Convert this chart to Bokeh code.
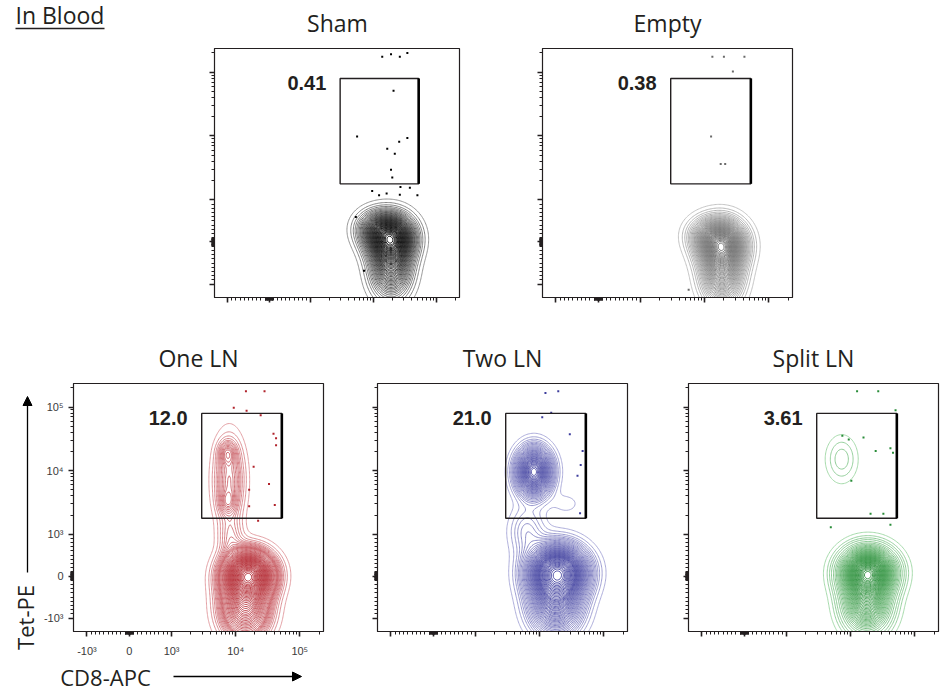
import numpy as np
from bokeh.plotting import figure
from bokeh.models import FixedTicker, Label, Arrow, NormalHead, Range1d
from bokeh.layouts import row, column
from bokeh.embed import file_html
from bokeh.resources import INLINE

# ---------------- data ----------------
titles = ["Sham", "Empty", "One LN", "Two LN", "Split LN"]
gate_pct = ["0.41", "0.38", "12.0", "21.0", "3.61"]
dark_col = ["#000000", "#6a6a6a", "#b0222b", "#3c3c9c", "#288c38"]
light_col = ["#8a8a8a", "#bdbdbd", "#e0959a", "#a4a4d6", "#9cd6a2"]

# gate in display (biexponential) units
gate_x = [3.47, 4.72]
gate_y = [3.25, 4.90]

# axis ticks (display units) and labels
major_ticks = [1.68, 2.34, 3.0, 4.0, 5.0]
major_labels = ["-10³", "0", "10³", "10⁴", "10⁵"]

# populations: Gaussian components (centre, spread, weight) in display units
sham_cx = [4.28, 4.28, 4.02]
sham_cy = [2.40, 1.95, 2.55]
sham_sx = [0.22, 0.20, 0.20]
sham_sy = [0.22, 0.30, 0.18]
sham_w = [0.55, 0.35, 0.10]

empty_cx = [4.27, 4.27, 4.02]
empty_cy = [2.30, 1.85, 2.45]
empty_sx = [0.22, 0.20, 0.20]
empty_sy = [0.23, 0.30, 0.18]
empty_w = [0.55, 0.37, 0.08]

one_cx = [4.20, 4.15, 3.90, 3.87, 3.87, 3.92]
one_cy = [2.36, 1.85, 3.85, 4.28, 3.50, 2.95]
one_sx = [0.23, 0.23, 0.15, 0.09, 0.09, 0.13]
one_sy = [0.22, 0.30, 0.42, 0.12, 0.12, 0.22]
one_w = [0.50, 0.33, 0.10, 0.010, 0.007, 0.02]

two_cx = [4.28, 4.25, 3.91, 4.42, 3.80]
two_cy = [2.40, 1.90, 3.98, 3.48, 3.05]
two_sx = [0.27, 0.25, 0.17, 0.16, 0.18]
two_sy = [0.25, 0.30, 0.23, 0.12, 0.25]
two_w = [0.48, 0.25, 0.19, 0.004, 0.03]

split_cx = [4.27, 4.25, 3.86]
split_cy = [2.40, 1.92, 4.18]
split_sx = [0.24, 0.22, 0.16]
split_sy = [0.22, 0.28, 0.24]
split_w = [0.60, 0.36, 0.026]

# outlier events (display units)
sham_ox = [4.14, 4.28, 4.42, 4.54, 4.32, 3.74, 4.41, 4.54, 4.22, 4.34, 4.28, 4.30, 3.98, 4.09, 4.21, 4.43, 4.58, 4.42, 4.70, 3.72, 3.85]
sham_oy = [5.24, 5.28, 5.24, 5.30, 4.71, 3.99, 3.91, 3.97, 3.80, 3.72, 3.47, 3.35, 3.14, 3.07, 3.10, 3.20, 3.19, 3.08, 3.07, 2.73, 1.89]
empty_ox = [4.12, 4.30, 4.62, 4.44, 4.10, 4.25, 4.32, 3.75]
empty_oy = [5.24, 5.24, 5.24, 5.01, 3.99, 3.56, 3.56, 1.59]
one_ox = [4.16, 4.45, 3.97, 4.17, 4.39, 4.59, 4.63, 4.63, 4.52, 4.61, 4.35, 4.28, 4.21, 4.21]
one_oy = [5.25, 5.25, 4.99, 4.94, 4.87, 4.58, 4.51, 4.40, 3.79, 3.46, 3.21, 4.06, 3.70, 3.44]
two_ox = [4.09, 4.29, 4.18, 4.04, 4.47, 4.67, 4.64, 4.59, 4.63]
two_oy = [5.22, 5.25, 4.91, 4.84, 4.57, 4.31, 4.09, 3.92, 3.33]
split_ox = [4.10, 4.43, 4.70, 3.87, 3.97, 4.20, 4.39, 4.62, 4.66, 4.01, 4.31, 4.51, 3.69, 4.62]
split_oy = [5.25, 5.25, 4.95, 4.55, 4.49, 4.52, 4.31, 4.35, 4.28, 3.84, 3.32, 3.32, 3.11, 3.15]

# ---------------- helpers ----------------
TXT = "#231f20"
FONT = "Open Sans"
NUMFONT = "Liberation Sans"
RANGE = (1.47, 5.37)

gx = np.linspace(0.9, 5.9, 251)
gy = np.linspace(0.4, 5.9, 276)
GX, GY = np.meshgrid(gx, gy)


def density(cx, cy, sx, sy, w):
    z = np.zeros_like(GX)
    for a, b, c, d, e in zip(cx, cy, sx, sy, w):
        z += e / (2 * np.pi * c * d) * np.exp(-0.5 * (((GX - a) / c) ** 2 + ((GY - b) / d) ** 2))
    return z


def prob_levels(z, step=0.02, n=49):
    zs = np.sort(z.ravel())[::-1]
    cum = np.cumsum(zs)
    cum /= cum[-1]
    fr = np.arange(1, n + 1) * step
    lv = np.interp(fr, cum, zs)
    return np.unique(lv)


def blend(c1, c2, t):
    a = [int(c1[i:i + 2], 16) for i in (1, 3, 5)]
    b = [int(c2[i:i + 2], 16) for i in (1, 3, 5)]
    return "#%02x%02x%02x" % tuple(int(round(a[k] + (b[k] - a[k]) * t)) for k in range(3))


def biex(v):
    v = np.asarray(v, dtype=float)
    av = np.maximum(np.abs(v), 1.0)
    return np.where(np.abs(v) <= 1000, 2.34 + 0.66 * v / 1000.0,
                    np.where(v > 0, 3.0 + np.log10(av / 1000.0), 1.68 - np.log10(av / 1000.0)))


minor_vals = []
for s in (1, -1):
    minor_vals += [s * m for m in range(10, 100, 10)]
    minor_vals += [s * m for m in range(100, 1000, 100)]
minor_vals += [m * 1000 for m in range(2, 10)] + [m * 10000 for m in range(2, 10)] + [200000]
minor_ticks = [float(t) for t in biex(minor_vals) if RANGE[0] < t < RANGE[1]]


def make_panel(idx, cx, cy, sx, sy, w, ox, oy, fw, fh, bl, br, bt, bb, labels=False):
    p = figure(frame_width=fw, frame_height=fh, min_border_left=bl, min_border_right=br,
               min_border_top=bt, min_border_bottom=bb,
               x_range=Range1d(*RANGE), y_range=Range1d(*RANGE),
               output_backend="svg", toolbar_location=None, tools="")
    p.xgrid.visible = False
    p.ygrid.visible = False
    p.outline_line_color = TXT
    p.outline_line_width = 1.2
    p.background_fill_color = "white"
    p.border_fill_color = "white"
    for ax in (p.xaxis[0], p.yaxis[0]):
        ax.ticker = FixedTicker(ticks=major_ticks, minor_ticks=minor_ticks)
        ax.axis_line_color = TXT
        ax.major_tick_line_color = TXT
        ax.minor_tick_line_color = TXT
        ax.major_tick_line_width = 1.6
        ax.minor_tick_line_width = 1
        ax.major_tick_in = 0
        ax.major_tick_out = 5
        ax.minor_tick_in = 0
        ax.minor_tick_out = 3
        if labels:
            ax.major_label_overrides = {t: l for t, l in zip(major_ticks, major_labels)}
            ax.major_label_text_font = NUMFONT
            ax.major_label_text_font_size = "11px"
            ax.major_label_text_color = "#3a3a3a"
        else:
            ax.major_label_overrides = {t: "" for t in major_ticks}
            ax.major_label_text_font_size = "1px"
    p.xaxis[0].major_label_standoff = 8
    p.yaxis[0].major_label_standoff = 5

    z = density(cx, cy, sx, sy, w)
    lv = prob_levels(z)
    n = len(lv)
    cols = [blend(light_col[idx], dark_col[idx], (k / max(n - 1, 1)) ** 0.5) for k in range(n)]
    p.contour(gx, gy, z, lv, line_color=cols, line_width=0.9)

    p.scatter(ox, oy, size=2, marker="square", fill_color=dark_col[idx], line_color=None)

    p.quad(left=[gate_x[0]], right=[gate_x[1]], bottom=[gate_y[0]], top=[gate_y[1]],
           fill_color=None, line_color=TXT, line_width=1.4)
    p.segment(x0=[gate_x[1]], x1=[gate_x[1]], y0=[gate_y[0]], y1=[gate_y[1]],
              line_color="#000000", line_width=2.6)

    p.add_layout(Label(x=gate_x[0] - 0.22, y=gate_y[1] - 0.07, text=gate_pct[idx],
                       text_align="right", text_baseline="middle", text_font=NUMFONT,
                       text_font_style="bold", text_font_size="20px", text_color=TXT))
    return p


def blank(width, height, x0, y0):
    """Figure whose data units are page pixels (y downwards), for free annotations."""
    p = figure(width=width, height=height, x_range=Range1d(x0, x0 + width),
               y_range=Range1d(y0 + height, y0), min_border=0,
               x_axis_location=None, y_axis_location=None,
               output_backend="svg", toolbar_location=None, tools="")
    p.grid.visible = False
    p.outline_line_color = None
    p.background_fill_color = "white"
    p.border_fill_color = "white"
    return p


def title_label(x, y, text):
    return Label(x=x, y=y, text=text, text_align="center", text_baseline="middle",
                 text_font=FONT, text_font_size="23px", text_color=TXT)


sham = make_panel(0, sham_cx, sham_cy, sham_sx, sham_sy, sham_w, sham_ox, sham_oy,
                  245, 249, 214, 63, 2, 10)
empty = make_panel(1, empty_cx, empty_cy, empty_sx, empty_sy, empty_w, empty_ox, empty_oy,
                   250, 249, 20, 20, 2, 10)
one = make_panel(2, one_cx, one_cy, one_sx, one_sy, one_w, one_ox, one_oy,
                 250, 248, 33, 34, 2, 30, labels=True)
two = make_panel(3, two_cx, two_cy, two_sx, two_sy, two_w, two_ox, two_oy,
                 250, 248, 20, 41, 2, 30)
split = make_panel(4, split_cx, split_cy, split_sx, split_sy, split_w, split_ox, split_oy,
                   250, 248, 20, 2, 2, 30)

# top strip: heading and titles of the first row
top = blank(944, 46, 0, 0)
top.add_layout(Label(x=15, y=14, text="In Blood", text_align="left", text_baseline="middle",
                     text_font=FONT, text_font_size="23px", text_color=TXT))
top.segment(x0=[15], x1=[104], y0=[28], y1=[28], line_color=TXT, line_width=1.3)
top.add_layout(title_label(337, 22, titles[0]))
top.add_layout(title_label(667, 22, titles[1]))

# middle strip: titles of the second row
mid = blank(944, 74, 0, 307)
mid.add_layout(title_label(198, 357, titles[2]))
mid.add_layout(title_label(502, 357, titles[3]))
mid.add_layout(title_label(813, 357, titles[4]))

# left strip: Tet-PE with arrow
left = blank(40, 313, 0, 381)
left.add_layout(Label(x=24, y=617, text="Tet-PE", angle=np.pi / 2, text_align="center",
                      text_baseline="middle", text_font=FONT, text_font_size="22px", text_color=TXT))
left.add_layout(Arrow(x_start=27, y_start=572, x_end=27, y_end=396, line_width=1.3,
                      line_color="#000000",
                      end=NormalHead(size=9, fill_color="#000000", line_color="#000000")))

# bottom strip: CD8-APC with arrow
bottom = blank(290, 33, 40, 661)
bottom.add_layout(Label(x=105, y=676, text="CD8-APC", text_align="center",
                        text_baseline="middle", text_font=FONT, text_font_size="22px", text_color=TXT))
bottom.add_layout(Arrow(x_start=173, y_start=676, x_end=301, y_end=676, line_width=1.3,
                        line_color="#000000",
                        end=NormalHead(size=9, fill_color="#000000", line_color="#000000")))

lower = column(row(one, two, split), bottom)
layout = column(top, row(sham, empty), mid, row(left, lower))

open("out.html", "w").write(file_html(layout, INLINE))
